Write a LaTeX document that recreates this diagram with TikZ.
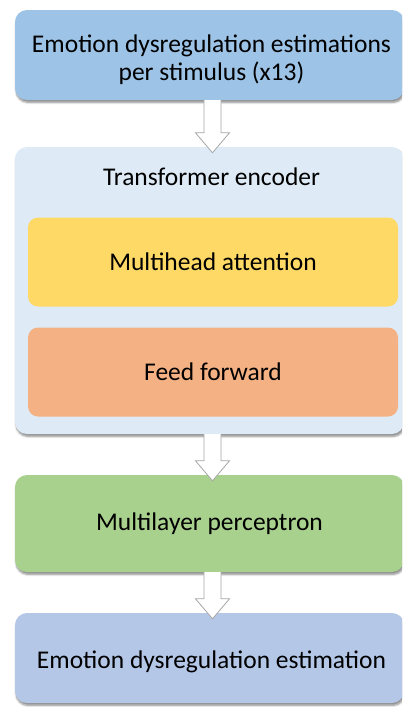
\documentclass[tikz,border=0pt]{standalone}
\usepackage{fontspec}
\setmainfont{Carlito}
\usetikzlibrary{calc}
\usetikzlibrary{shadows.blur}

\definecolor{inblue}{HTML}{9DC3E6}
\definecolor{encblue}{HTML}{DEEBF7}
\definecolor{attyellow}{HTML}{FFD966}
\definecolor{fforange}{HTML}{F4B183}
\definecolor{mlpgreen}{HTML}{A9D18E}
\definecolor{outblue}{HTML}{B4C7E7}

\tikzset{
  stage/.style={rounded corners=12pt,minimum width=389pt,align=center,
    blur shadow={shadow xshift=1pt,shadow yshift=-2.5pt,shadow blur steps=6,shadow opacity=45},
    font=\fontsize{25.5}{28}\selectfont},
  sublayer/.style={rounded corners=10pt,minimum width=370pt,minimum height=89pt,
    font=\fontsize{25.5}{28}\selectfont},
  blockarrow/.style={draw=black!35,fill=white,line width=0.8pt,line join=miter}
}

\newcommand{\hollowarrow}[2]{%
  \draw[blockarrow] ($(#1.south)+(-5.5,0)$) -- ($(#2.north)+(-5.5,-14)$) -- ($(#2.north)+(-14,-14)$)
    -- ($(#2.north)+(3,6)$) -- ($(#2.north)+(20,-14)$) -- ($(#2.north)+(11.5,-14)$) -- ($(#1.south)+(11.5,0)$);}

\begin{document}
\begin{tikzpicture}[x=1pt,y=-1pt]
    \useasboundingbox (0,0) rectangle (402,707);
    \clip (0,0) rectangle (402,707);
    \node[stage,fill=inblue,minimum height=90pt] (input) at (209.5,55) {};
    \node[align=center,font=\fontsize{25.5}{28}\selectfont] (inputtext) at (211.5,60)
        {Emotion dysregulation estimations\\per stimulus (x13)};
    \node[stage,fill=encblue,minimum height=287pt] (encoder) at (209.5,290.5) {};
    \node[font=\fontsize{25.5}{28}\selectfont] (enctitle) at (211.5,177) {Transformer encoder};
    \node[sublayer,fill=attyellow] (attention) at (213,262) {Multihead attention};
    \node[sublayer,fill=fforange] (feedfwd) at (213,372) {Feed forward};
    \node[stage,fill=mlpgreen,minimum height=97pt] (mlp) at (209.5,523.5) {Multilayer perceptron};
    \node[stage,fill=outblue,minimum height=90pt] (output) at (209.5,658) {};
    \node[font=\fontsize{25.5}{28}\selectfont] (outputtext) at (211.5,662) {Emotion dysregulation estimation};
    \hollowarrow{input}{encoder}
    \hollowarrow{encoder}{mlp}
    \hollowarrow{mlp}{output}
\end{tikzpicture}
\end{document}
